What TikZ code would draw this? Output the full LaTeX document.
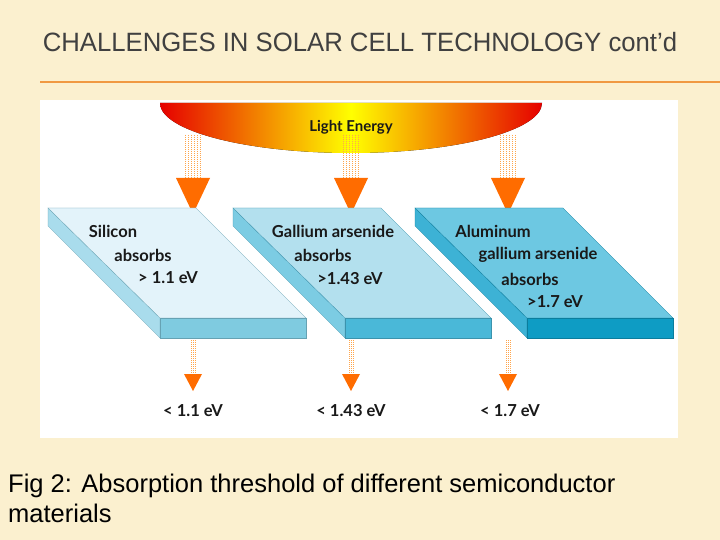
\documentclass[tikz,border=0pt]{standalone}
\usepackage{fontspec}
\setmainfont{Liberation Sans}
\newfontfamily\pfont{Lato}
\begin{document}
\begin{tikzpicture}[x=1pt,y=-1pt,
  lbl/.style={font=\pfont\bfseries\fontsize{16.5}{18}\selectfont, text=black!90, inner sep=0},
  dots/.style={draw=orange!70, line width=0.6pt, dash pattern=on 1pt off 1pt},
  arr/.style={fill=orange!85!red, draw=none}]
\definecolor{bg}{HTML}{FBF0CF}
\useasboundingbox (0,0) rectangle (720,540);
\fill[bg] (0,0) rectangle (720,540);
\node[font=\fontsize{26.5}{30}\selectfont, text=black!75, inner sep=0, xscale=0.97] (title) at (360,42) {CHALLENGES IN SOLAR CELL TECHNOLOGY cont'd};
\draw[line width=1.5pt, color=orange!70!brown!80] (40,82) -- (720,82);
\fill[white] (40,100) rectangle (678,438);
% light energy
\fill[left color=red!90!black, right color=red!90!black, middle color=yellow] (160,103) -- (542,103) arc[start angle=0,end angle=-180,x radius=191,y radius=-50] -- cycle;
\node[lbl, font=\pfont\bfseries\fontsize{15}{17}\selectfont] (light) at (351,127) {Light Energy};
% dotted columns and arrows
\foreach \x/\n in {193/a,351/b,508/c}{
  \foreach \d in {-7,-4,-1,2,5,8}{\draw[dots] (\x+\d-0.5,135) -- (\x+\d-0.5,178);}
  \fill[arr] (\x-17,178) -- (\x+17,178) -- (\x,214) -- cycle;
  \foreach \d in {-2,0,2}{\draw[dots] (\x+\d,340) -- (\x+\d,374);}
  \fill[arr] (\x-9,374) -- (\x+9,374) -- (\x,391) -- cycle;
}
% panels
\foreach \x/\top/\side/\front in {48/E3F3FA/A9DCEC/7FCBE0, 233/B3E0EE/7CCCE3/4AB8D8, 415/6DC8E2/3DB2D5/0E9CC4}{
  \definecolor{ct}{HTML}{\top}\definecolor{cs}{HTML}{\side}\definecolor{cf}{HTML}{\front}
  \filldraw[fill=cs, draw=cf!80!black, line width=0.3pt] (\x,208) -- (\x+112,318) -- (\x+112,338) -- (\x,226) -- cycle;
  \filldraw[fill=ct, draw=cf!80!black, line width=0.3pt] (\x,208) -- (\x+148,208) -- (\x+258,318) -- (\x+112,318) -- cycle;
  \filldraw[fill=cf, draw=cf!80!black, line width=0.3pt] (\x+112,318) rectangle (\x+258,338);
}
\node[lbl] (s1) at (113,231) {Silicon};
\node[lbl] (s2) at (143,255) {absorbs};
\node[lbl] (s3) at (168,278) {> 1.1 eV};
\node[lbl] (g1) at (333,231) {Gallium arsenide};
\node[lbl] (g2) at (323,255) {absorbs};
\node[lbl] (g3) at (350,279) {>1.43 eV};
\node[lbl] (a1) at (493,231) {Aluminum};
\node[lbl] (a2) at (538,255) {gallium arsenide};
\node[lbl] (a3) at (530,279) {absorbs};
\node[lbl] (a4) at (555,302) {>1.7 eV};
\node[lbl] (b1) at (193,411) {< 1.1 eV};
\node[lbl] (b2) at (351,411) {< 1.43 eV};
\node[lbl] (b3) at (510,411) {< 1.7 eV};
\node[anchor=west, align=left, font=\fontsize{25.5}{30}\selectfont, inner sep=0] (cap) at (8,498) {Fig 2: Absorption threshold of different semiconductor\\materials};
\end{tikzpicture}
\end{document}
